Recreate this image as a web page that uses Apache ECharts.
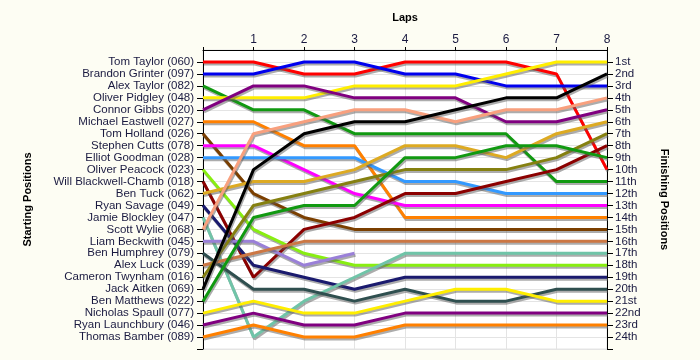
<!DOCTYPE html>
<html>
<head>
<meta charset="utf-8">
<script src="https://cdn.jsdelivr.net/npm/echarts@6/dist/echarts.min.js"></script>
<style>
html,body{margin:0;padding:0;background:#fdfdf3;}
#chart{width:700px;height:360px;}
</style>
</head>
<body>
<div id="chart"></div>
<script>
const laps = [0, 1, 2, 3, 4, 5, 6, 7, 8];
const lapLabels = ['', '1', '2', '3', '4', '5', '6', '7', '8'];
const drivers = [
  'Tom Taylor (060)', 'Brandon Grinter (097)', 'Alex Taylor (082)', 'Oliver Pidgley (048)',
  'Connor Gibbs (020)', 'Michael Eastwell (027)', 'Tom Holland (026)', 'Stephen Cutts (078)',
  'Elliot Goodman (028)', 'Oliver Peacock (023)', 'Will Blackwell-Chamb (018)', 'Ben Tuck (062)',
  'Ryan Savage (049)', 'Jamie Blockley (047)', 'Scott Wylie (068)', 'Liam Beckwith (045)',
  'Ben Humphrey (079)', 'Alex Luck (039)', 'Cameron Twynham (016)', 'Jack Aitken (069)',
  'Ben Matthews (022)', 'Nicholas Spaull (077)', 'Ryan Launchbury (046)', 'Thomas Bamber (089)'
];
const finishLabels = ['1st','2nd','3rd','4th','5th','6th','7th','8th','9th','10th','11th','12th',
  '13th','14th','15th','16th','17th','18th','19th','20th','21st','22nd','23rd','24th'];
// position of each driver at laps 0..8 (null = retired)
const lapPositions = [
  [1, 1, 2, 2, 1, 1, 1, 2, 10],
  [2, 2, 1, 1, 2, 2, 3, 3, 3],
  [3, 5, 5, 7, 7, 7, 7, 11, 11],
  [4, 4, 4, 3, 3, 3, 2, 1, 1],
  [5, 3, 3, 4, 4, 4, 6, 6, 5],
  [6, 6, 8, 8, 14, 14, 14, 14, 14],
  [7, 12, 14, 15, 15, 15, 15, 15, 15],
  [8, 8, 10, 12, 13, 13, 13, 13, 13],
  [9, 9, 9, 9, 11, 11, 12, 12, 12],
  [10, 15, 17, 18, 18, 18, 18, 18, 18],
  [11, 19, 15, 14, 12, 12, 11, 10, 8],
  [12, 11, 11, 10, 8, 8, 9, 7, 6],
  [13, 18, 19, 20, 19, 19, 19, 19, 19],
  [14, 24, 21, 19, 17, 17, 17, 17, 17],
  [15, 7, 6, 5, 5, 6, 5, 5, 4],
  [16, 16, 18, 17, null, null, null, null, null],
  [17, 20, 20, 21, 20, 21, 21, 20, 20],
  [18, 17, 16, 16, 16, 16, 16, 16, 16],
  [19, 13, 12, 11, 10, 10, 10, 9, 7],
  [20, 10, 7, 6, 6, 5, 4, 4, 2],
  [21, 14, 13, 13, 9, 9, 8, 8, 9],
  [22, 21, 22, 22, 21, 20, 20, 21, 21],
  [23, 22, 23, 23, 22, 22, 22, 22, 22],
  [24, 23, 24, 24, 23, 23, 23, 23, 23]
];
const colors = [
  '#ff0000', '#0000ee', '#119911', '#ffee00', '#800080', '#ff8000', '#7b3f00', '#ff00ff',
  '#3399ff', '#88ee11', '#8b0000', '#ddaa22', '#1a1a6e', '#70c4a8', '#f8a07e', '#9a80d8',
  '#2f4f4f', '#cc7744', '#858010', '#000000', '#119911', '#ffee00', '#800080', '#ff8000'
];

const labelColor = '#1a1a40';
const fontFamily = '"Liberation Sans", Arial, sans-serif';
const tickVals = [];
for (let i = 1; i <= 25; i++) tickVals.push(i);

const series = drivers.map((name, i) => ({
  name: name,
  type: 'line',
  symbol: 'none',
  connectNulls: false,
  data: laps.map((lap, j) => [lap, lapPositions[i][j]]),
  lineStyle: {
    color: colors[i], width: 3,
    shadowColor: 'rgba(90,90,90,0.5)', shadowBlur: 0, shadowOffsetX: 1, shadowOffsetY: 2
  },
  itemStyle: { color: colors[i] },
  emphasis: { disabled: true }
}));

const chart = echarts.init(document.getElementById('chart'), null, { renderer: 'canvas' });
chart.setOption({
  animation: false,
  backgroundColor: '#fdfdf3',
  textStyle: { fontFamily: fontFamily },
  grid: {
    left: 203, right: 93, top: 50, bottom: 11,
    show: true, backgroundColor: '#ffffff', borderColor: '#e4e4e4', borderWidth: 1
  },
  xAxis: {
    type: 'value', position: 'top', min: 0, max: 8, interval: 1,
    name: 'Laps', nameLocation: 'middle', nameGap: 27,
    nameTextStyle: { fontWeight: 'bold', fontSize: 11, color: '#000', fontFamily: fontFamily },
    axisLine: { show: true, lineStyle: { color: '#000', width: 1 } },
    axisTick: { show: true, length: 3, lineStyle: { color: '#000' } },
    axisLabel: { margin: 4, fontSize: 12, color: labelColor, fontFamily: fontFamily,
      formatter: v => lapLabels[v] || '' },
    splitLine: { show: true, lineStyle: { color: '#e4e4e4', width: 1 } }
  },
  yAxis: [
    {
      type: 'value', position: 'left', inverse: true, min: 0, max: 25, interval: 1,
      name: 'Starting Positions', nameLocation: 'middle', nameGap: 170, nameRotate: 90,
      nameTextStyle: { fontWeight: 'bold', fontSize: 11, color: '#000', fontFamily: fontFamily },
      axisLine: { show: true, lineStyle: { color: '#000', width: 1 } },
      axisTick: { show: true, length: 6, lineStyle: { color: '#000' }, customValues: tickVals },
      axisLabel: { margin: 9, fontSize: 11.5, color: labelColor, fontFamily: fontFamily,
        formatter: v => drivers[v - 1] || '' },
      splitLine: { show: true, lineStyle: { color: '#e4e4e4', width: 1 } }
    },
    {
      type: 'value', position: 'right', inverse: true, min: 0, max: 25, interval: 1,
      name: 'Finishing Positions', nameLocation: 'middle', nameGap: 52, nameRotate: -90,
      nameTextStyle: { fontWeight: 'bold', fontSize: 11, color: '#000', fontFamily: fontFamily },
      axisLine: { show: true, lineStyle: { color: '#000', width: 1 } },
      axisTick: { show: true, length: 6, lineStyle: { color: '#000' }, customValues: tickVals },
      axisLabel: { margin: 8, fontSize: 11.5, color: labelColor, fontFamily: fontFamily,
        formatter: v => finishLabels[v - 1] || '' },
      splitLine: { show: false }
    }
  ],
  series: series
});
</script>
</body>
</html>
